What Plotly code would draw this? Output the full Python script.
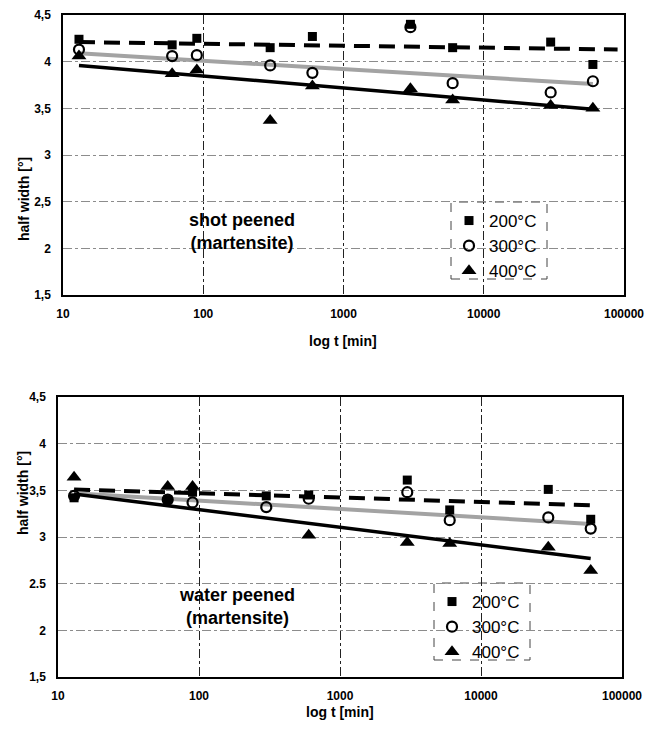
import plotly.graph_objects as go

# ---------------- data ----------------
t_all = [13, 60, 90, 300, 600, 3000, 6000, 30000, 60000]

shot_200 = [4.24, 4.18, 4.25, 4.15, 4.27, 4.40, 4.15, 4.21, 3.97]
shot_300 = [4.13, 4.06, 4.07, 3.96, 3.88, 4.37, 3.77, 3.67, 3.79]
shot_400_t = [13, 60, 90, 300, 600, 3000, 6000, 30000, 60000]
shot_400 = [4.06, 3.87, 3.91, 3.37, 3.74, 3.71, 3.59, 3.53, 3.50]

water_200 = [3.42, 3.40, 3.48, 3.44, 3.45, 3.61, 3.29, 3.51, 3.19]
water_300 = [3.44, 3.40, 3.37, 3.32, 3.41, 3.48, 3.18, 3.21, 3.09]
water_400_t = [13, 60, 90, 600, 3000, 6000, 30000, 60000]
water_400 = [3.64, 3.54, 3.54, 3.02, 2.94, 2.93, 2.89, 2.64]

# trend lines (end points)
shot_tr200_t, shot_tr200 = [13, 90000], [4.21, 4.13]
shot_tr300_t, shot_tr300 = [13, 60000], [4.09, 3.76]
shot_tr400_t, shot_tr400 = [13, 60000], [3.96, 3.49]
water_tr200_t, water_tr200 = [13, 60000], [3.51, 3.34]
water_tr300_t, water_tr300 = [13, 60000], [3.47, 3.14]
water_tr400_t, water_tr400 = [13, 60000], [3.46, 2.77]

x_tickvals = [10, 100, 1000, 10000, 100000]
x_ticktext = ["10", "100", "1000", "10000", "100000"]
y_tickvals = [1.5, 2, 2.5, 3, 3.5, 4, 4.5]
y_ticktext_top = ["1,5", "2", "2,5", "3", "3,5", "4", "4,5"]
y_ticktext_bot = ["1,5", "2", "2.5", "3", "3,5", "4", "4,5"]
legend_names = ["200°C", "300°C", "400°C"]

# ---------------- figure ----------------
W, H = 648, 735
fig = go.Figure()

FONT = "Liberation Sans, Arial, sans-serif"
dash_style = "16px,9px"
grey = "#a3a3a3"


def add_panel(xa, ya, leg, d200, d300, t400, d400, tr):
    (t2, y2), (t3, y3), (t4, y4) = tr
    fig.add_trace(go.Scatter(x=t2, y=y2, mode="lines", xaxis=xa, yaxis=ya, showlegend=False,
                             line=dict(color="black", width=4, dash=dash_style), hoverinfo="skip"))
    fig.add_trace(go.Scatter(x=t3, y=y3, mode="lines", xaxis=xa, yaxis=ya, showlegend=False,
                             line=dict(color=grey, width=4), hoverinfo="skip"))
    fig.add_trace(go.Scatter(x=t4, y=y4, mode="lines", xaxis=xa, yaxis=ya, showlegend=False,
                             line=dict(color="black", width=3.5), hoverinfo="skip"))
    fig.add_trace(go.Scatter(x=t_all, y=d200, mode="markers", xaxis=xa, yaxis=ya, name=legend_names[0],
                             legend=leg, marker=dict(symbol="square", size=9, color="black")))
    fig.add_trace(go.Scatter(x=t_all, y=d300, mode="markers", xaxis=xa, yaxis=ya, name=legend_names[1],
                             legend=leg, marker=dict(symbol="circle-open", size=10, color="black",
                                                     line=dict(width=2.2, color="black"))))
    fig.add_trace(go.Scatter(x=t400, y=d400, mode="markers", xaxis=xa, yaxis=ya, name=legend_names[2],
                             legend=leg, marker=dict(symbol="triangle-up", size=13, color="black")))


add_panel("x", "y", "legend", shot_200, shot_300, shot_400_t, shot_400,
          [(shot_tr200_t, shot_tr200), (shot_tr300_t, shot_tr300), (shot_tr400_t, shot_tr400)])
add_panel("x2", "y2", "legend2", water_200, water_300, water_400_t, water_400,
          [(water_tr200_t, water_tr200), (water_tr300_t, water_tr300), (water_tr400_t, water_tr400)])

# pixel geometry of the plot areas
top_box = dict(l=63, r=624, t=15, b=295)
bot_box = dict(l=58, r=622, t=397, b=677)


def xdom(b):
    return [b["l"] / W, b["r"] / W]


def ydom(b):
    return [1 - b["b"] / H, 1 - b["t"] / H]


xcommon = dict(type="log", range=[1, 5], tickvals=x_tickvals, ticktext=x_ticktext,
               showline=True, linecolor="black", linewidth=1.5, mirror=True,
               showgrid=True, gridcolor="#222222", gridwidth=1, griddash="dashdot",
               ticks="", ticklabelstandoff=7,
               tickfont=dict(family=FONT, size=12, color="black", weight="bold"), zeroline=False)
ycommon = dict(range=[1.5, 4.5], tickvals=y_tickvals,
               showline=True, linecolor="black", linewidth=1.5, mirror=True,
               showgrid=True, gridcolor="#8c8c8c", gridwidth=1, griddash="dashdot",
               ticks="", ticklabelstandoff=8,
               tickfont=dict(family=FONT, size=12, color="black", weight="bold"), zeroline=False)

fig.update_layout(
    width=W, height=H, margin=dict(l=0, r=0, t=0, b=0, autoexpand=False),
    paper_bgcolor="white", plot_bgcolor="white",
    xaxis=dict(domain=xdom(top_box), anchor="y", **xcommon),
    yaxis=dict(domain=ydom(top_box), anchor="x", ticktext=y_ticktext_top, **ycommon),
    xaxis2=dict(domain=xdom(bot_box), anchor="y2", **xcommon),
    yaxis2=dict(domain=ydom(bot_box), anchor="x2", ticktext=y_ticktext_bot, **ycommon),
    legend=dict(x=449 / W, y=1 - 203 / H, xanchor="left", yanchor="top", bgcolor="rgba(0,0,0,0)",
                font=dict(family=FONT, size=17, color="black"), itemwidth=30, tracegroupgap=0),
    legend2=dict(x=432 / W, y=1 - 584 / H, xanchor="left", yanchor="top", bgcolor="rgba(0,0,0,0)",
                 font=dict(family=FONT, size=17, color="black"), itemwidth=30, tracegroupgap=0),
    showlegend=True,
)

# legend frames (dashed)
fig.add_shape(type="rect", xref="paper", yref="paper", x0=451 / W, x1=547 / W, y0=1 - 279 / H, y1=1 - 202 / H,
              line=dict(color="#444", width=1, dash="dash"), fillcolor="rgba(0,0,0,0)", layer="below")
fig.add_shape(type="rect", xref="paper", yref="paper", x0=434 / W, x1=530 / W, y0=1 - 660 / H, y1=1 - 583 / H,
              line=dict(color="#444", width=1, dash="dash"), fillcolor="white", layer="below")

# text annotations
ann_font = dict(family=FONT, size=18, color="black", weight="bold")
fig.add_annotation(x=187 / W, y=1 - 208 / H, xref="paper", yref="paper", showarrow=False,
                   text="shot peened<br>(martensite)", font=ann_font, align="center")
fig.add_annotation(x=177 / W, y=1 - 630 / H, xref="paper", yref="paper", showarrow=False,
                   text="water peened<br>(martensite)", font=ann_font, align="center")

title_font = dict(family=FONT, size=14, color="black", weight="bold")
for (cx, cy) in [(343, 341), (340, 722)]:
    fig.add_annotation(x=cx / W, y=1 - cy / H, xref="paper", yref="paper", showarrow=False,
                       text="log t [min]", font=title_font)
for (cx, cy) in [(14, 155), (13, 537)]:
    fig.add_annotation(x=cx / W, y=1 - cy / H, xref="paper", yref="paper", showarrow=False,
                       text="half width [°]", font=title_font, textangle=-90)

fig.write_html("out.html")
